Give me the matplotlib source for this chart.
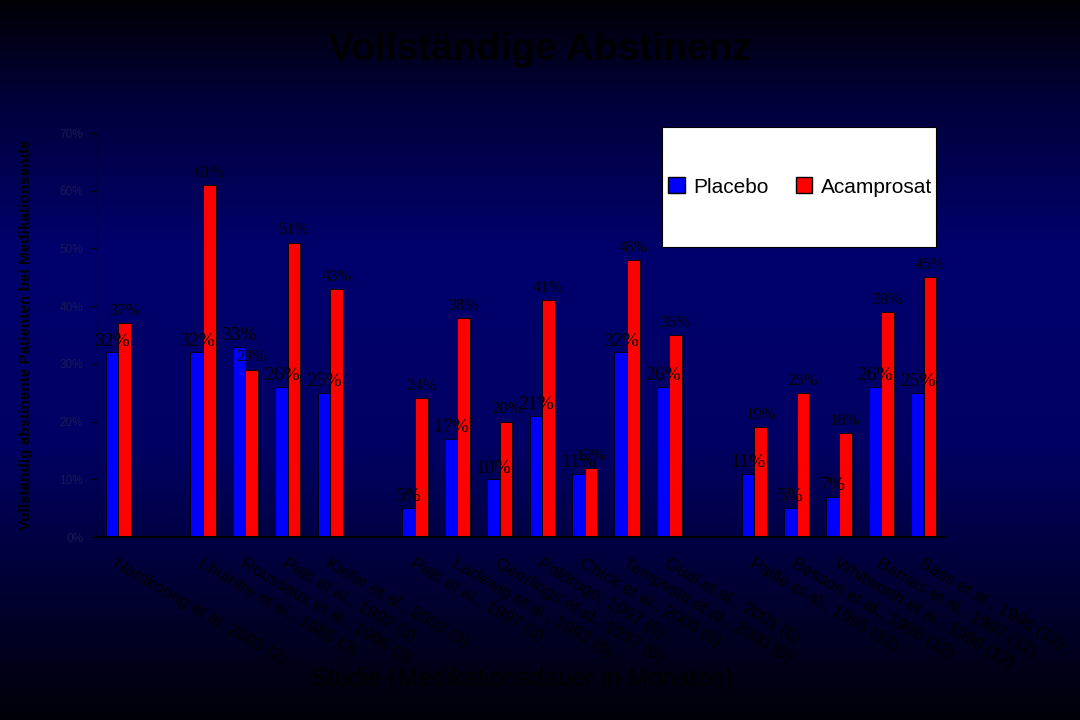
import numpy as np
import matplotlib
matplotlib.use("Agg")
import matplotlib.pyplot as plt
from matplotlib.patches import Patch, Rectangle
from matplotlib.colors import LinearSegmentedColormap
from matplotlib.transforms import ScaledTranslation

plt.rcParams["font.family"] = ["Liberation Sans", "DejaVu Sans"]

# ---- data ----
studies = [
    "Namkoong et al. 2003 (2)", "",
    "Lhuintre et al., 1985 (3)", "Roussaux et al., 1996 (3)",
    "Pelc et al., 1992 (3)", "Kiefer et al., 2003 (3)", "",
    "Pelc et al., 1997 (3)", "Ladewig et al., 1993 (6)",
    "Geerlings et al., 1997 (6)", "Poldrugo, 1997 (6)",
    "Chick et al., 2000 (6)", "Tempesta et al., 2000 (6)",
    "Gual et al., 2001 (6)", "",
    "Paille et al., 1995 (12)", "Besson et al., 1998 (12)",
    "Whitworth et al., 1996 (12)", "Barrias et al., 1997 (12)",
    "Sass et al., 1996 (12)",
]
placebo = [32, None, 32, 33, 26, 25, None, 5, 17, 10, 21, 11, 32, 26, None,
           11, 5, 7, 26, 25]
acamprosat = [37, None, 61, 29, 51, 43, None, 24, 38, 20, 41, 12, 48, 35, None,
              19, 25, 18, 39, 45]
yticks = [0, 10, 20, 30, 40, 50, 60, 70]

title = "Vollständige Abstinenz"
xlabel = "Studie (Medikationsdauer in Monaten)"
ylabel = "Vollständig abstinente Patienten bei Medikationsende"

# ---- figure ----
fig = plt.figure(figsize=(10.8, 7.2), dpi=100)

# background gradient
bg = fig.add_axes([0, 0, 1, 1], zorder=-10)
cmap = LinearSegmentedColormap.from_list(
    "bg",
    [(0.0, (0, 0, 0.02)), (0.15, (0, 0, 0.24)), (0.35, (0, 0, 0.43)),
     (0.62, (0, 0, 0.39)), (0.85, (0, 0, 0.17)), (1.0, (0, 0, 0.03))])
grad = np.linspace(0, 1, 256).reshape(-1, 1)
bg.imshow(grad, aspect="auto", cmap=cmap, extent=[0, 1, 0, 1], origin="upper")
bg.set_axis_off()

ax = fig.add_axes([97 / 1080, 1 - 537 / 720, 848 / 1080, 404 / 720])
ax.set_facecolor("none")

n = len(studies)
x = np.arange(n)
w = 0.295
idx = [i for i in range(n) if placebo[i] is not None]
pv = [placebo[i] for i in idx]
av = [acamprosat[i] for i in idx]
xi = np.array(idx)

b1 = ax.bar(xi - w / 2, pv, w, color="#0000FF", edgecolor="#000000", linewidth=0.6)
b2 = ax.bar(xi + w / 2, av, w, color="#FF0000", edgecolor="#000000", linewidth=0.6)

ax.bar_label(b1, labels=[f"{v}%" for v in pv], padding=2, color="#000000",
             fontsize=14, family="Liberation Serif")
ax.bar_label(b2, labels=[f"{v}%" for v in av], padding=3, color="#050505",
             fontsize=12, family="Liberation Serif")

ax.set_xlim(-0.5, n - 0.5)
ax.set_ylim(0, 70)
ax.set_yticks(yticks)
ax.set_yticklabels([f"{t}%" for t in yticks], fontsize=8.5, color="#1a1a55")
ax.set_xticks(x)
ax.set_xticklabels(studies, rotation=-30, ha="left", va="top",
                   rotation_mode="anchor", fontsize=12.5, color="#000000")
shift = ScaledTranslation(5 / 100, 0, fig.dpi_scale_trans)
for lbl in ax.get_xticklabels():
    lbl.set_transform(lbl.get_transform() + shift)
ax.tick_params(axis="x", length=0, pad=14)
ax.tick_params(axis="y", length=4, color="#000000", direction="out", pad=6)

for s in ["top", "right"]:
    ax.spines[s].set_visible(False)
ax.spines["left"].set_color("#000010")
ax.spines["bottom"].set_color("#000000")
ax.spines["bottom"].set_linewidth(1.5)

ax.set_ylabel(ylabel, fontsize=11, fontweight="bold", color="#000000")
ax.yaxis.set_label_coords(-0.075, 0.5)

fig.text(540 / 1080, 1 - 50 / 720, title, ha="center", va="center",
         fontsize=28, fontweight="bold", color="#000000")
fig.text(522 / 1080, 1 - 679 / 720, xlabel, ha="center", va="center",
         fontsize=18, color="#000000")

# legend box
fig.patches.append(Rectangle((662 / 1080, 1 - 247 / 720), 274 / 1080, 120 / 720,
                             transform=fig.transFigure, facecolor="white",
                             edgecolor="#000000", linewidth=0.8, zorder=5))
handles = [Patch(facecolor="#0000FF", edgecolor="#000000", label="Placebo"),
           Patch(facecolor="#FF0000", edgecolor="#000000", label="Acamprosat")]
leg = fig.legend(handles=handles, loc="center",
                 bbox_to_anchor=(800 / 1080, 1 - 187 / 720), ncol=2,
                 frameon=False, handlelength=0.8, handleheight=0.8,
                 handletextpad=0.4, columnspacing=1.3,
                 prop={"family": "Liberation Sans", "size": 15})
leg.set_zorder(6)

fig.savefig("out.png", dpi=100)
